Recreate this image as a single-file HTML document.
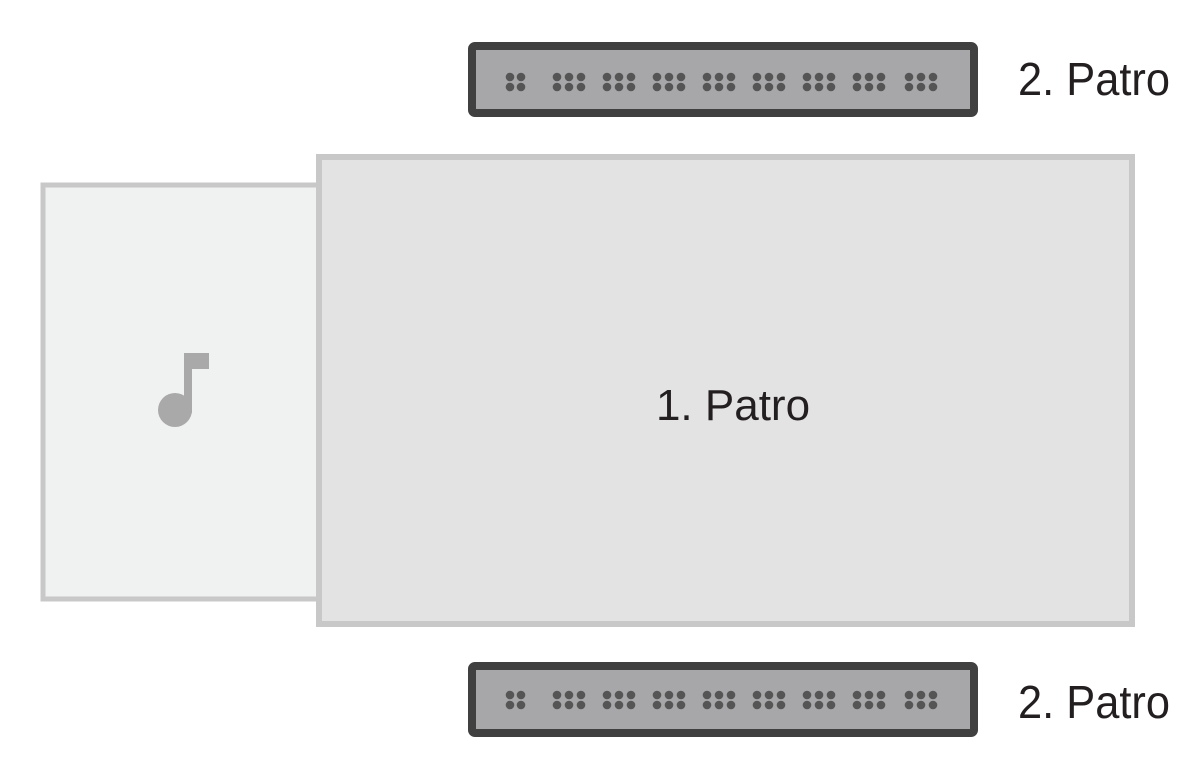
<!DOCTYPE html>
<html><head><meta charset="utf-8"><style>
html,body{margin:0;padding:0;background:#fff;}
svg{display:block}
text{font-family:"Liberation Sans",sans-serif;fill:#231f20}
</style></head><body>
<svg width="1200" height="784" viewBox="0 0 1200 784" xmlns="http://www.w3.org/2000/svg">
<defs>
<g id="d2"><circle cx="0" cy="0" r="4.3"/><circle cx="11" cy="0" r="4.3"/><circle cx="0" cy="10" r="4.3"/><circle cx="11" cy="10" r="4.3"/></g>
<g id="d3"><circle cx="0" cy="0" r="4.3"/><circle cx="12" cy="0" r="4.3"/><circle cx="24" cy="0" r="4.3"/><circle cx="0" cy="10" r="4.3"/><circle cx="12" cy="10" r="4.3"/><circle cx="24" cy="10" r="4.3"/></g>
<g id="dots" fill="#555">
<use href="#d2" x="0"/>
<use href="#d3" x="47"/><use href="#d3" x="97"/><use href="#d3" x="147"/><use href="#d3" x="197"/>
<use href="#d3" x="247"/><use href="#d3" x="297"/><use href="#d3" x="347"/><use href="#d3" x="399"/>
</g>
</defs>
<rect x="43" y="185" width="276" height="414" fill="#f0f1f1" stroke="#c8c8c8" stroke-width="5"/>
<rect x="319" y="157" width="813" height="467" fill="#e3e3e3" stroke="#c8c8c8" stroke-width="6"/>
<rect x="184" y="353" width="8" height="60" fill="#a9a9a9"/>
<rect x="184" y="353" width="25" height="16" fill="#a9a9a9"/>
<circle cx="175" cy="410" r="17" fill="#a9a9a9"/>
<text x="733" y="420" font-size="44" text-anchor="middle">1. Patro</text>
<rect x="472" y="46" width="502" height="67" rx="3" fill="#a7a7aa" stroke="#404040" stroke-width="8"/>
<use href="#dots" x="510" y="77"/>
<rect x="472" y="666" width="502" height="67" rx="3" fill="#a7a7aa" stroke="#404040" stroke-width="8"/>
<use href="#dots" x="510" y="695"/>
<text x="1018" y="95" font-size="46" textLength="152" lengthAdjust="spacingAndGlyphs">2. Patro</text>
<text x="1018" y="718" font-size="46" textLength="152" lengthAdjust="spacingAndGlyphs">2. Patro</text>
</svg>
</body></html>
